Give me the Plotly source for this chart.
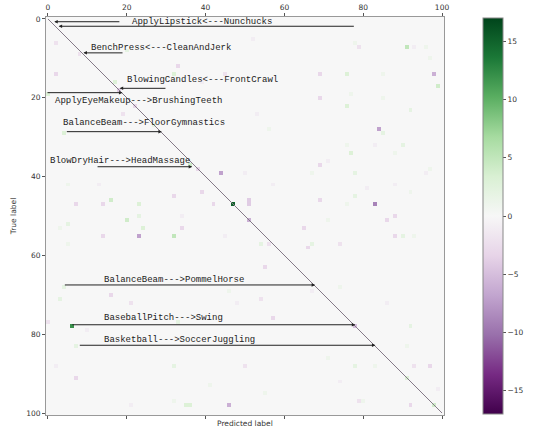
import numpy as np
import plotly.graph_objects as go

# Difference of two confusion matrices over 101 classes (mostly zero, sparse entries)
n_classes = 101
rows = [6, 8, 12, 14, 16, 14, 14, 19, 22, 24, 29, 27, 16, 37, 38, 39, 44, 47, 42, 42, 46, 47, 47, 47, 45, 47,
        5, 7, 7, 7, 7, 6, 10, 14, 14, 14, 14, 17, 20, 22, 19, 20, 23, 24, 28, 28, 29, 32, 32, 32, 34, 34, 37, 36,
        39, 39, 39, 39, 38, 42, 42, 43, 46, 47, 46, 47, 45, 47, 50, 44,
        51, 52, 55, 55, 55, 53, 53, 50, 50, 55, 53, 57, 68, 71, 70, 72, 77, 78, 79, 83, 77, 88, 88, 91, 93, 98, 98,
        98, 98, 97, 69, 72,
        51, 53, 51, 51, 57, 58, 57, 57, 55, 55, 55, 63, 57, 71, 69, 68, 76, 78, 72, 78, 83, 88, 86, 88, 88, 88, 88,
        91, 97, 97, 98, 98, 94, 95, 92, 18, 9]
cols = [2, 20, 33, 2, 17, 32, 45, 0, 22, 19, 4, 27, 39, 36, 38, 44, 39, 47, 13, 5, 16, 7, 14, 23, 32, 42,
        52, 79, 91, 93, 96, 78, 97, 69, 76, 85, 98, 99, 69, 76, 77, 85, 92, 53, 56, 84, 85, 76, 83, 90, 77, 88, 69, 71,
        78, 50, 67, 96, 97, 57, 88, 81, 51, 51, 69, 76, 78, 83, 88, 92,
        20, 5, 14, 23, 32, 24, 34, 34, 23, 45, 3, 5, 4, 3, 16, 21, 0, 6, 10, 7, 33, 2, 32, 7, 41, 21, 35,
        36, 46, 32, 46, 48,
        51, 65, 71, 86, 56, 66, 67, 74, 88, 90, 93, 55, 54, 54, 67, 74, 57, 78, 86, 92, 91, 50, 71, 78, 83, 93, 97,
        91, 79, 80, 92, 98, 99, 55, 74, 18, 8]
vals = [-2, 2, -3, -3, 3, 3, -2, 3, -3, -2, 3, 2, -1, 4, -3, -7, -3, 15, -1, 1, 4, -3, -3, 3, -3, -3,
        -1, -2, 5, -1, 1, 1, 1, -3, 3, 1, -6, 4, -3, 3, 1, 1, 2, -1, 1, -7, 2, 1, -1, 2, 3, 1, -3, -1,
        2, -1, 1, -1, 1, -1, -1, -1, -4, -4, -3, 1, 2, -9, -3, 1,
        4, 2, -3, -7, 5, 3, -3, -1, 2, -1, 1, 1, 2, 2, -3, -2, -2, 12, -1, 2, 2, -1, 2, -3, 1, -1, 3,
        3, -6, 1, 1, -1,
        -6, -3, 1, -3, -2, -3, 2, -2, -3, 2, 1, -3, 2, -2, -1, 1, -3, -5, -1, 2, 1, -2, 1, 2, 1, -2, -3,
        3, -2, 1, -3, 4, -1, 1, -1, -4, -2]

# Most frequent confusions, annotated as "true ---> predicted"
labels = ["ApplyLipstick<---Nunchucks", "BenchPress<---CleanAndJerk", "BlowingCandles<---FrontCrawl",
          "ApplyEyeMakeup--->BrushingTeeth", "BalanceBeam--->FloorGymnastics", "BlowDryHair--->HeadMassage",
          "BalanceBeam--->PommelHorse", "BaseballPitch--->Swing", "Basketball--->SoccerJuggling"]
label_x = [20.7, 10.4, 19.6, 1.2, 3.3, -0.1, 13.7, 13.7, 13.7]
label_y = [0.75, 7.3, 15.5, 20.8, 26.3, 36.0, 66.2, 75.9, 81.4]

# Arrows: tail -> head
arrow_tail_x = [18.5, 78.0, 19.3, 30.2, -0.5, 4.4, 12.2, 3.9, 5.8, 7.7]
arrow_tail_y = [0.7, 1.85, 8.6, 17.6, 18.7, 28.6, 37.5, 67.5, 77.6, 82.8]
arrow_head_x = [1.6, 2.7, 9.0, 18.2, 18.9, 28.9, 36.6, 67.8, 78.0, 83.1]
arrow_head_y = [0.7, 1.85, 8.6, 17.6, 18.7, 28.6, 37.5, 67.5, 77.6, 82.8]

tick_vals = [0, 20, 40, 60, 80, 100]
cbar_ticks = [-15, -10, -5, 0, 5, 10, 15]
z_limit = 17

z = np.zeros((n_classes, n_classes))
for r, c, v in zip(rows, cols, vals):
    z[r, c] = v

idx = list(range(n_classes))
fig = go.Figure()
fig.add_trace(go.Heatmap(
    z=z, x=idx, y=idx, colorscale="PRGn", zmin=-z_limit, zmax=z_limit,
    colorbar=dict(
        x=1.098, xanchor="left", xref="paper", xpad=0, ypad=0,
        y=0.5, yanchor="middle", len=396, lenmode="pixels", thickness=20,
        outlinewidth=1, outlinecolor="#888",
        tickvals=cbar_ticks, ticks="outside", ticklen=3, tickcolor="#555",
        tickfont=dict(family="DejaVu Sans", size=7.5, color="#333"),
    ),
    hoverinfo="skip",
))

# Diagonal reference line
fig.add_trace(go.Scatter(
    x=[idx[0], idx[-1]], y=[idx[0], idx[-1]], mode="lines",
    line=dict(color="#857a88", width=1), showlegend=False, hoverinfo="skip",
))

# Top axis with labels, bottom axis with bare ticks
fig.update_layout(
    width=537, height=427,
    margin=dict(l=46, r=93, t=17, b=12),
    paper_bgcolor="white", plot_bgcolor="white",
    showlegend=False,
    xaxis=dict(
        range=[-0.5, n_classes - 0.5], tickvals=tick_vals, side="bottom",
        showticklabels=False, ticks="outside", ticklen=3, tickcolor="#555",
        showgrid=False, zeroline=False, showline=True, linecolor="#999", linewidth=1,
        mirror=True, automargin=False,
    ),
    xaxis2=dict(
        range=[-0.5, n_classes - 0.5], tickvals=tick_vals, side="top", overlaying="x",
        ticks="outside", ticklen=3, tickcolor="#555",
        tickfont=dict(family="DejaVu Sans", size=7.5, color="#333"),
        showgrid=False, zeroline=False, automargin=False,
    ),
    yaxis=dict(
        range=[n_classes - 0.5, -0.5], tickvals=tick_vals,
        ticks="outside", ticklen=3, tickcolor="#555",
        tickfont=dict(family="DejaVu Sans", size=7.5, color="#333"),
        showgrid=False, zeroline=False, showline=True, linecolor="#999", linewidth=1,
        mirror=True, automargin=False,
        title=dict(text="True label", font=dict(family="DejaVu Sans", size=7.5, color="#333"), standoff=8),
    ),
)
# invisible trace so the top axis is drawn
fig.add_trace(go.Scatter(x=[None], y=[None], xaxis="x2", showlegend=False, hoverinfo="skip"))

annotations = []
for tx, ty, hx, hy in zip(arrow_tail_x, arrow_tail_y, arrow_head_x, arrow_head_y):
    annotations.append(dict(
        x=hx, y=hy, ax=tx, ay=ty, xref="x", yref="y", axref="x", ayref="y",
        text="", showarrow=True, arrowhead=2, arrowsize=0.7, arrowwidth=1, arrowcolor="#222",
    ))
for txt, lx, ly in zip(labels, label_x, label_y):
    annotations.append(dict(
        x=lx, y=ly, xref="x", yref="y", text=txt, showarrow=False,
        xanchor="left", yanchor="middle",
        font=dict(family="Liberation Mono", size=9, color="#222"),
    ))
annotations.append(dict(
    x=0.5, y=0, xref="paper", yref="paper", yanchor="top", yshift=-2,
    text="Predicted label", showarrow=False,
    font=dict(family="DejaVu Sans", size=7.5, color="#333"),
))
fig.update_layout(annotations=annotations)

fig.write_html("out.html")
